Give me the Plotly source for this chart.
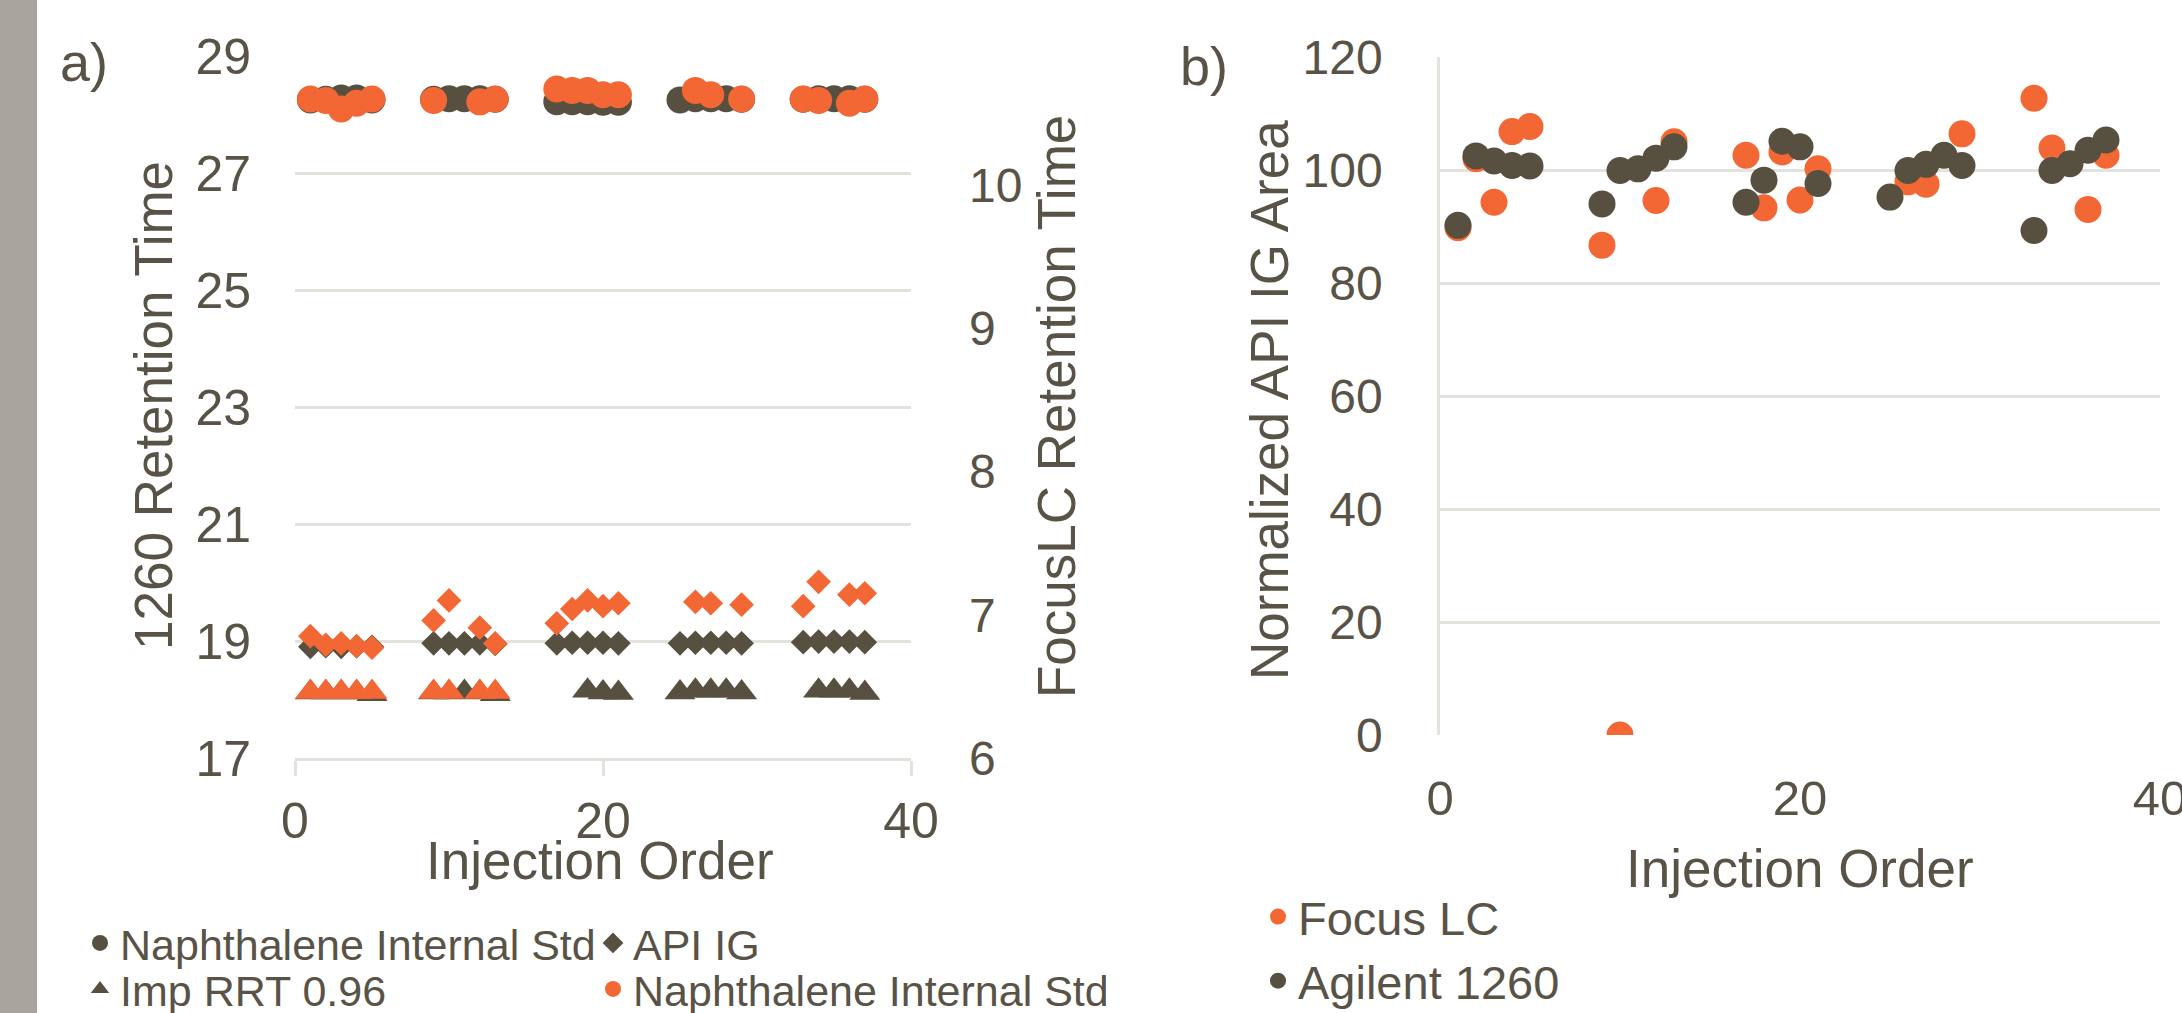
import plotly.graph_objects as go

W, H = 2182, 1013
DARK = "#575040"
ORANGE = "#F26734"
TEXT = "#595246"
GRID = "#E4E2DC"
FONT = "Liberation Sans, Arial, sans-serif"

# ---------------- Panel a) data ----------------
# Agilent 1260 (primary axis)
naph_1260_x = [1, 2, 3, 4, 5, 9, 10, 11, 12, 13, 17, 18, 19, 20, 21, 25, 26, 27, 28, 29, 33, 34, 35, 36, 37]
naph_1260_y = [28.25, 28.26, 28.28, 28.28, 28.25, 28.26, 28.27, 28.27, 28.27, 28.26,
               28.22, 28.22, 28.22, 28.21, 28.21, 28.25, 28.27, 28.27, 28.27, 28.26,
               28.26, 28.27, 28.27, 28.27, 28.26]
api_1260_x = naph_1260_x
api_1260_y = [18.90, 18.91, 18.90, 18.91, 18.90, 18.96, 18.96, 18.96, 18.96, 18.95,
              18.96, 18.97, 18.97, 18.97, 18.96, 18.96, 18.97, 18.97, 18.97, 18.96,
              18.98, 18.99, 18.99, 18.99, 18.98]
imp_1260_x = [1, 2, 3, 4, 5, 9, 10, 11, 12, 13, 19, 20, 21, 25, 26, 27, 28, 29, 34, 35, 36, 37]
imp_1260_y = [18.12, 18.12, 18.12, 18.12, 18.09, 18.12, 18.12, 18.13, 18.12, 18.09,
              18.15, 18.12, 18.11, 18.12, 18.15, 18.15, 18.15, 18.12,
              18.15, 18.15, 18.15, 18.11]

# FocusLC (secondary axis)
naph_focus_x = [1, 2, 3, 4, 5, 9, 12, 13, 17, 18, 19, 20, 21, 26, 27, 29, 33, 34, 36, 37]
naph_focus_y = [10.60, 10.59, 10.53, 10.57, 10.60, 10.59, 10.58, 10.60,
                10.67, 10.66, 10.66, 10.63, 10.63, 10.66, 10.63, 10.60,
                10.60, 10.59, 10.57, 10.60]
api_focus_x = [1, 2, 3, 4, 5, 9, 10, 12, 13, 17, 18, 19, 20, 21, 26, 27, 29, 33, 34, 36, 37]
api_focus_y = [6.85, 6.79, 6.80, 6.78, 6.77, 6.96, 7.10, 6.91, 6.80,
               6.94, 7.04, 7.10, 7.06, 7.08, 7.09, 7.08, 7.07,
               7.06, 7.23, 7.14, 7.15]
imp_focus_x = [1, 2, 3, 4, 5, 9, 10, 12, 13]
imp_focus_y = [6.46, 6.46, 6.46, 6.46, 6.46, 6.46, 6.46, 6.46, 6.46]

# ---------------- Panel b) data ----------------
focus_x = [1, 2, 3, 4, 5, 9, 10, 12, 13, 17, 18, 19, 20, 21, 26, 27, 29, 33, 34, 36, 37]
focus_y = [89.8, 102.0, 94.3, 106.8, 107.7, 86.7, 0.0, 94.6, 105.0,
           102.6, 93.3, 103.2, 94.7, 100.2, 97.9, 97.5, 106.4,
           112.7, 103.9, 93.0, 102.6]
agilent_x = [1, 2, 3, 4, 5, 9, 10, 11, 12, 13, 17, 18, 19, 20, 21, 25, 26, 27, 28, 29, 33, 34, 35, 36, 37]
agilent_y = [90.2, 102.5, 101.6, 100.8, 100.7, 94.0, 99.9, 100.2, 102.1, 104.1,
             94.3, 98.2, 105.1, 104.1, 97.6, 95.2, 99.9, 101.0, 102.6, 100.8,
             89.3, 99.9, 101.1, 103.5, 105.3]

x_ticks = [0, 20, 40]
y1_ticks = [17, 19, 21, 23, 25, 27, 29]
y2_ticks = [6, 7, 8, 9, 10]
y3_ticks = [0, 20, 40, 60, 80, 100, 120]


def px_x(p):
    return p / W


def px_y(p):
    return 1 - p / H


fig = go.Figure()

# Panel a - primary (Agilent 1260)
fig.add_trace(go.Scatter(x=naph_1260_x, y=naph_1260_y, mode="markers", name="Naphthalene Internal Std",
                         marker=dict(symbol="circle", size=27, color=DARK), xaxis="x", yaxis="y",
                         legend="legend"))
fig.add_trace(go.Scatter(x=api_1260_x, y=api_1260_y, mode="markers", name="API IG",
                         marker=dict(symbol="diamond", size=19, color=DARK), xaxis="x", yaxis="y",
                         legend="legend"))
fig.add_trace(go.Scatter(x=imp_1260_x, y=imp_1260_y, mode="markers", name="Imp RRT 0.96",
                         marker=dict(symbol="triangle-up", size=27, color=DARK), xaxis="x", yaxis="y",
                         legend="legend2"))
# Panel a - secondary (FocusLC)
fig.add_trace(go.Scatter(x=naph_focus_x, y=naph_focus_y, mode="markers", name="Naphthalene Internal Std",
                         marker=dict(symbol="circle", size=27, color=ORANGE), xaxis="x", yaxis="y2",
                         legend="legend2"))
fig.add_trace(go.Scatter(x=api_focus_x, y=api_focus_y, mode="markers", name="API IG (FocusLC)",
                         marker=dict(symbol="diamond", size=19, color=ORANGE), xaxis="x", yaxis="y2",
                         showlegend=False))
fig.add_trace(go.Scatter(x=imp_focus_x, y=imp_focus_y, mode="markers", name="Imp RRT 0.96 (FocusLC)",
                         marker=dict(symbol="triangle-up", size=27, color=ORANGE), xaxis="x", yaxis="y2",
                         showlegend=False))

# Panel b
fig.add_trace(go.Scatter(x=focus_x, y=focus_y, mode="markers", name="Focus LC",
                         marker=dict(symbol="circle", size=27, color=ORANGE), xaxis="x3", yaxis="y3",
                         legend="legend3"))
fig.add_trace(go.Scatter(x=agilent_x, y=agilent_y, mode="markers", name="Agilent 1260",
                         marker=dict(symbol="circle", size=27, color=DARK), xaxis="x3", yaxis="y3",
                         legend="legend3"))

axis_common = dict(zeroline=False, color=TEXT, automargin=False, ticklabeloverflow="allow")

fig.update_layout(
    template="none",
    width=W, height=H,
    margin=dict(l=0, r=0, t=0, b=0, pad=0, autoexpand=False),
    paper_bgcolor="white", plot_bgcolor="white",
    font=dict(family=FONT, color=TEXT, size=50),
    xaxis=dict(domain=[px_x(295), px_x(911)], range=[0, 40], tickvals=x_ticks, anchor="y",
               showgrid=False, showline=True, linecolor=GRID, linewidth=2.5,
               ticks="outside", ticklen=15, tickwidth=2.5, tickcolor=GRID,
               tickfont=dict(size=50, color=TEXT), ticklabelstandoff=2, **axis_common),
    yaxis=dict(domain=[px_y(758), px_y(56)], range=[17, 29], tickvals=y1_ticks, anchor="x",
               showgrid=True, gridcolor=GRID, gridwidth=2.5, showline=False, ticks="",
               tickfont=dict(size=50, color=TEXT), ticklabelstandoff=43, **axis_common),
    yaxis2=dict(range=[6, 10.9], tickvals=y2_ticks, overlaying="y", side="right", anchor="x",
                showgrid=False, showline=False, ticks="",
                tickfont=dict(size=48, color=TEXT), ticklabelstandoff=57, **axis_common),
    xaxis3=dict(domain=[px_x(1440), px_x(2160)], range=[0, 40], tickvals=x_ticks, anchor="y3",
                showgrid=False, showline=False, ticks="",
                tickfont=dict(size=49, color=TEXT), ticklabelstandoff=30, **axis_common),
    yaxis3=dict(domain=[px_y(735), px_y(57)], range=[0, 120], tickvals=y3_ticks, anchor="x3",
                showgrid=True, gridcolor=GRID, gridwidth=2.5, showline=True, linecolor=GRID,
                linewidth=2.5, ticks="", tickfont=dict(size=48, color=TEXT),
                ticklabelstandoff=45, **axis_common),
    legend=dict(orientation="h", x=px_x(80), y=px_y(943), xanchor="left", yanchor="middle",
                font=dict(size=43, color=TEXT), entrywidth=468, entrywidthmode="pixels",
                bgcolor="rgba(0,0,0,0)", itemsizing="trace"),
    legend2=dict(orientation="h", x=px_x(80), y=px_y(989), xanchor="left", yanchor="middle",
                 font=dict(size=43, color=TEXT), entrywidth=468, entrywidthmode="pixels",
                 bgcolor="rgba(0,0,0,0)", itemsizing="trace"),
    legend3=dict(orientation="v", x=px_x(1258), y=px_y(949), xanchor="left", yanchor="middle",
                 font=dict(size=47, color=TEXT), bgcolor="rgba(0,0,0,0)", itemsizing="trace",
                 tracegroupgap=0),
    shapes=[dict(type="rect", xref="paper", yref="paper", x0=0, x1=px_x(37), y0=0, y1=1,
                 fillcolor="#A8A59E", line=dict(width=0), layer="below")],
    annotations=[
        dict(text="a)", x=px_x(58), y=px_y(62), xref="paper", yref="paper", showarrow=False,
             xanchor="left", yanchor="middle", font=dict(size=54, color=TEXT)),
        dict(text="b)", x=px_x(1178), y=px_y(66), xref="paper", yref="paper", showarrow=False,
             xanchor="left", yanchor="middle", font=dict(size=54, color=TEXT)),
        dict(text="Injection Order", x=px_x(600), y=px_y(860), xref="paper", yref="paper",
             showarrow=False, xanchor="center", yanchor="middle", font=dict(size=53, color=TEXT)),
        dict(text="Injection Order", x=px_x(1800), y=px_y(868), xref="paper", yref="paper",
             showarrow=False, xanchor="center", yanchor="middle", font=dict(size=53, color=TEXT)),
        dict(text="1260 Retention Time", x=px_x(153), y=px_y(405), xref="paper", yref="paper",
             showarrow=False, xanchor="center", yanchor="middle", textangle=-90,
             font=dict(size=53, color=TEXT)),
        dict(text="FocusLC Retention Time", x=px_x(1057), y=px_y(407), xref="paper", yref="paper",
             showarrow=False, xanchor="center", yanchor="middle", textangle=-90,
             font=dict(size=53, color=TEXT)),
        dict(text="Normalized API IG Area", x=px_x(1269), y=px_y(400), xref="paper", yref="paper",
             showarrow=False, xanchor="center", yanchor="middle", textangle=-90,
             font=dict(size=53, color=TEXT)),
    ],
)

fig.write_html("out.html", post_script="document.body.style.margin='0px';",
               config={"displayModeBar": False})
